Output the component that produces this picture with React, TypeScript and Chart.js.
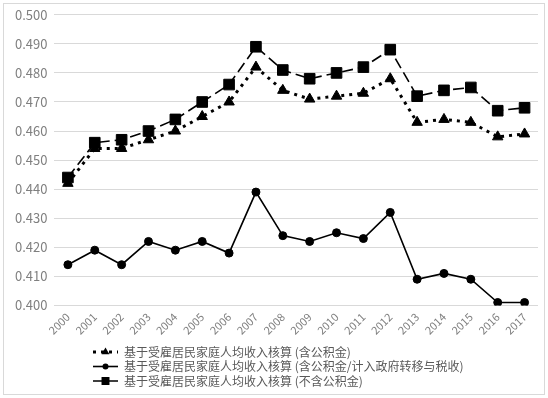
import React, { useEffect, useRef } from "react";
import { Chart, registerables } from "chart.js";
Chart.register(...registerables);

const years = ["2000","2001","2002","2003","2004","2005","2006","2007","2008","2009","2010","2011","2012","2013","2014","2015","2016","2017"];
const withFund = [0.442,0.454,0.454,0.457,0.460,0.465,0.470,0.482,0.474,0.471,0.472,0.473,0.478,0.463,0.464,0.463,0.458,0.459];
const withFundTransfer = [0.414,0.419,0.414,0.422,0.419,0.422,0.418,0.439,0.424,0.422,0.425,0.423,0.432,0.409,0.411,0.409,0.401,0.401];
const withoutFund = [0.444,0.456,0.457,0.460,0.464,0.470,0.476,0.489,0.481,0.478,0.480,0.482,0.488,0.472,0.474,0.475,0.467,0.468];
const seriesLabels = [
  "基于受雇居民家庭人均收入核算 (含公积金)",
  "基于受雇居民家庭人均收入核算 (含公积金/计入政府转移与税收)",
  "基于受雇居民家庭人均收入核算 (不含公积金)",
];
const yMin = 0.4;
const yMax = 0.5;
const yStep = 0.01;

const FONT = "'Noto Sans CJK SC', 'Noto Sans', sans-serif";

function drawMarker(ctx: CanvasRenderingContext2D, style: string, x: number, y: number, r: number) {
  ctx.beginPath();
  if (style === "triangle") {
    ctx.moveTo(x, y - r);
    ctx.lineTo(x + r * 0.866, y + r * 0.5);
    ctx.lineTo(x - r * 0.866, y + r * 0.5);
    ctx.closePath();
  } else if (style === "rect") {
    const s = r * Math.SQRT1_2;
    ctx.rect(x - s, y - s, 2 * s, 2 * s);
  } else {
    ctx.arc(x, y, r, 0, Math.PI * 2);
  }
  ctx.fill();
}

const framePlugin = {
  id: "frame",
  beforeDraw(chart: any) {
    const ctx = chart.ctx;
    ctx.save();
    ctx.fillStyle = "#ffffff";
    ctx.fillRect(0, 0, chart.width, chart.height);
    ctx.strokeStyle = "#d9d9d9";
    ctx.lineWidth = 1;
    ctx.strokeRect(3.5, 3.5, chart.width - 7, chart.height - 7);
    ctx.restore();
  },
};

const legendPlugin = {
  id: "customLegend",
  afterDraw(chart: any, _args: any, opts: any) {
    const ctx = chart.ctx as CanvasRenderingContext2D;
    ctx.save();
    chart.data.datasets.forEach((ds: any, i: number) => {
      const y = opts.y + i * opts.gap;
      const x0 = opts.x;
      ctx.strokeStyle = ds.borderColor;
      ctx.lineWidth = ds.borderWidth;
      ctx.setLineDash(ds.borderDash || []);
      ctx.beginPath();
      ctx.moveTo(x0, y);
      ctx.lineTo(x0 + opts.lineLen, y);
      ctx.stroke();
      ctx.setLineDash([]);
      ctx.fillStyle = ds.pointBackgroundColor;
      drawMarker(ctx, ds.pointStyle, x0 + opts.lineLen / 2, y, ds.pointRadius * 0.75);
      ctx.fillStyle = "#595959";
      ctx.font = `12px ${FONT}`;
      ctx.textBaseline = "middle";
      ctx.fillText(ds.label, x0 + opts.lineLen + 6, y);
    });
    ctx.restore();
  },
};

export default function App() {
  const ref = useRef<HTMLCanvasElement>(null);
  useEffect(() => {
    document.body.style.margin = "0";
    const chart = new Chart(ref.current!, {
      type: "line",
      data: {
        labels: years,
        datasets: [
          {
            label: seriesLabels[0],
            data: withFund,
            borderColor: "#000000",
            borderWidth: 3,
            borderDash: [3, 5],
            pointStyle: "triangle",
            pointRadius: 6,
            pointBackgroundColor: "#000000",
            pointBorderColor: "#000000",
            pointBorderWidth: 1,
            tension: 0,
            fill: false,
          },
          {
            label: seriesLabels[1],
            data: withFundTransfer,
            borderColor: "#000000",
            borderWidth: 1.6,
            pointStyle: "circle",
            pointRadius: 4,
            pointBackgroundColor: "#000000",
            pointBorderColor: "#000000",
            pointBorderWidth: 1,
            tension: 0,
            fill: false,
          },
          {
            label: seriesLabels[2],
            data: withoutFund,
            borderColor: "#000000",
            borderWidth: 1.6,
            borderDash: [11, 5],
            pointStyle: "rect",
            pointRadius: 7.5,
            pointBackgroundColor: "#000000",
            pointBorderColor: "#000000",
            pointBorderWidth: 1,
            tension: 0,
            fill: false,
          },
        ],
      },
      options: {
        responsive: false,
        animation: false,
        layout: { padding: { top: 13, left: 8, right: 10, bottom: 56 } },
        plugins: {
          legend: { display: false },
          tooltip: { enabled: false },
          customLegend: { x: 93, y: 352, gap: 14.5, lineLen: 25 },
        } as any,
        scales: {
          x: {
            offset: true,
            grid: { display: false, drawTicks: false },
            border: { display: false },
            ticks: {
              color: "#7f7f7f",
              font: { family: FONT, size: 11 },
              minRotation: 45,
              maxRotation: 45,
              padding: 5,
            },
          },
          y: {
            min: yMin,
            max: yMax,
            grid: { color: "#d9d9d9", drawTicks: false, lineWidth: 1 },
            border: { display: false },
            ticks: {
              stepSize: yStep,
              color: "#7f7f7f",
              font: { family: FONT, size: 13 },
              padding: 7,
              callback: (v: any) => Number(v).toFixed(3),
            },
          },
        },
      },
      plugins: [framePlugin, legendPlugin],
    });
    return () => chart.destroy();
  }, []);
  return <canvas ref={ref} width={548} height={398} style={{ display: "block" }} />;
}
